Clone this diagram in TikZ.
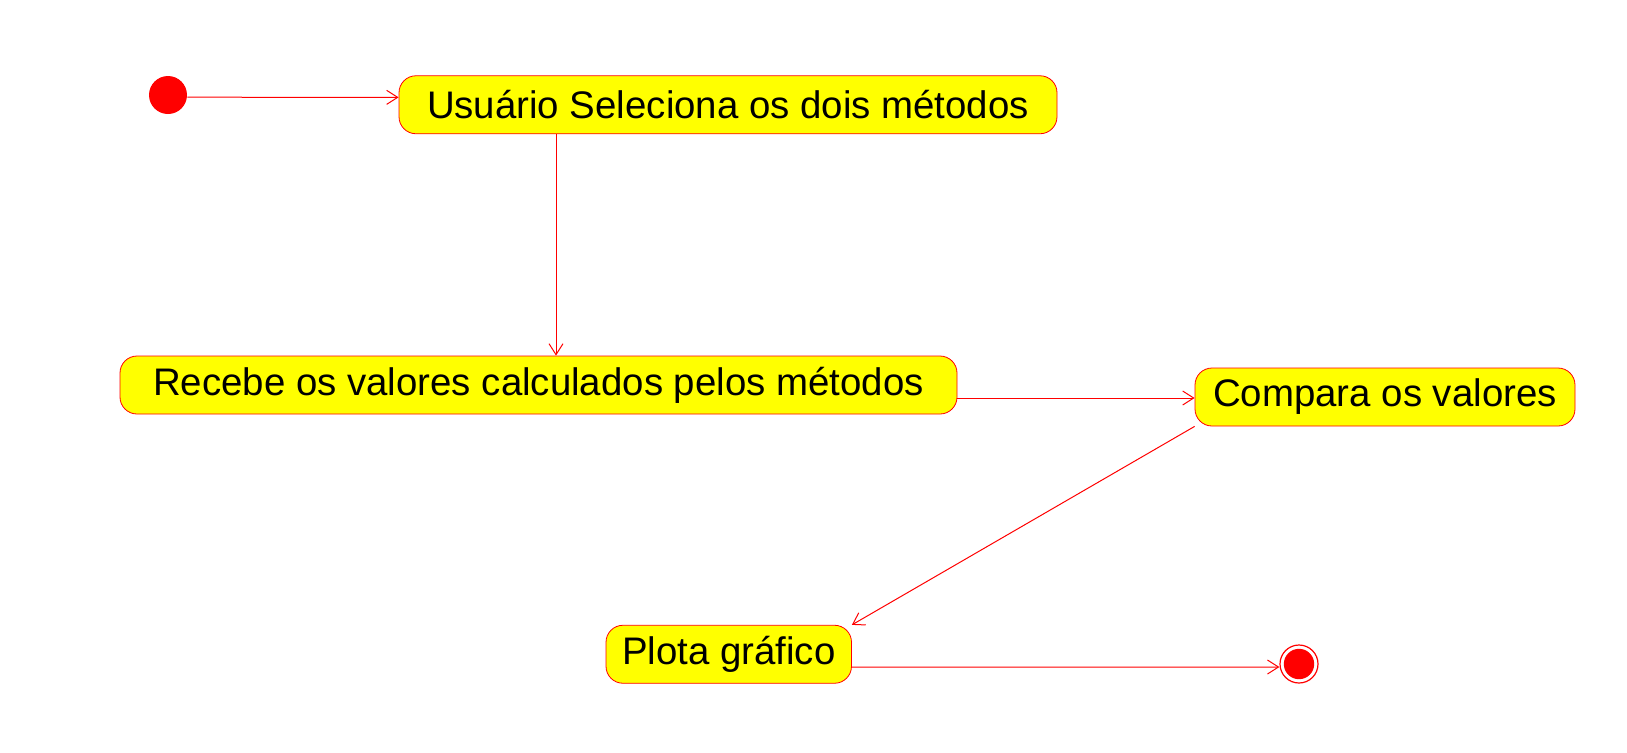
\documentclass[tikz,border=0pt]{standalone}
\usepackage{fontspec}
\setmainfont{Liberation Sans}
\usepackage{tikz}
\usetikzlibrary{arrows.meta}

\definecolor{stateyellow}{RGB}{255,255,0}
\definecolor{statered}{RGB}{255,0,0}

\tikzset{
  statebox/.style={draw=statered, fill=stateyellow, rounded corners=8.5pt, inner sep=0pt,
    minimum height=29pt, font=\fontsize{19.2}{23}\selectfont},
  flow/.style={draw=statered, line width=0.5pt, -{Straight Barb[length=5.5pt, width=7pt]}}
}

\begin{document}
\begin{tikzpicture}[x=0.5pt, y=-0.5pt]
			\useasboundingbox (0, 0) rectangle (1627, 752);
			% Initial state
			\node[circle, fill=statered, minimum size=19pt, inner sep=0pt] (start) at (168, 95) {};
			% Activities
			\node[statebox, minimum width=329pt] (select) at (728, 104.75) {Usuário Seleciona os dois métodos};
			\node[statebox, minimum width=418.5pt] (receive) at (538.5, 385) {Recebe os valores calculados pelos métodos};
			\node[statebox, minimum width=190pt] (compare) at (1385, 397) {Compara os valores};
			\node[statebox, minimum width=122.75pt] (plot) at (728.75, 654.25) {Plota gráfico};
			% Final state
			\node[circle, draw=statered, line width=0.6pt, minimum size=19pt, inner sep=0pt] (final) at (1299, 664) {};
			\fill[statered] (final.center) circle (7.6pt);
			% Transitions
			\draw[flow] ([yshift=-1.1pt]start.east) -- ([yshift=3.7pt]select.west);
			\draw[flow] ([xshift=-86pt]select.south) -- ([xshift=8.75pt]receive.north);
			\draw[flow] ([yshift=-6.5pt]receive.east) -- ([yshift=-0.5pt]compare.west);
			\draw[flow] (compare.south west) -- (plot.north east);
			\draw[flow] ([yshift=-6.4pt]plot.east) -- ([yshift=-1.5pt]final.west);
		\end{tikzpicture}
\end{document}
